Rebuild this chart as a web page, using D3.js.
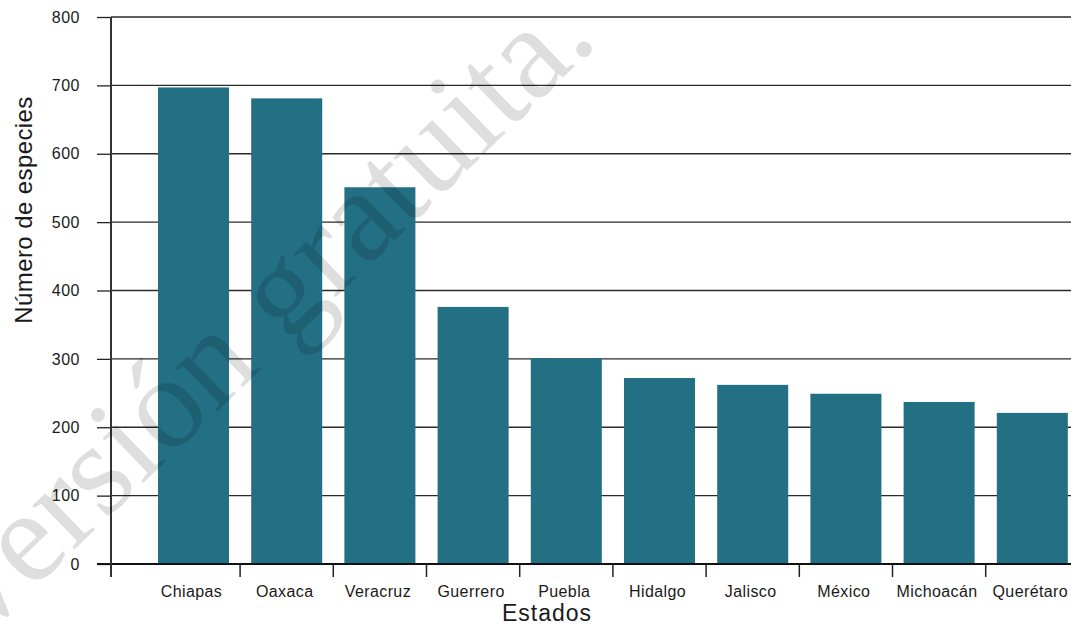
<!DOCTYPE html>
<html>
<head>
<meta charset="utf-8">
<script src="https://cdn.jsdelivr.net/npm/d3@7"></script>
<style>
  html, body { margin: 0; padding: 0; background: #fff; }
  svg { display: block; }
</style>
</head>
<body>
<svg id="chart" width="1071" height="627"></svg>
<script>
const categories = ["Chiapas", "Oaxaca", "Veracruz", "Guerrero", "Puebla", "Hidalgo", "Jalisco", "México", "Michoacán", "Querétaro"];
const values = [697, 681, 551, 376, 301, 272, 262, 249, 237, 221];
const yTicks = [0, 100, 200, 300, 400, 500, 600, 700, 800];
const yTitle = "Número de especies";
const xTitle = "Estados";
const watermark = "Versión gratuita.";

(function () {
const svg = d3.select("#chart");
const W = 1071;
const axisX = 111, plotTop = 17, base = 564;

const x = d3.scaleBand().domain(categories).range([146.8, 1079]).paddingInner(0.238).paddingOuter(0.12);
const y = d3.scaleLinear().domain([0, 800]).range([base, plotTop]);

// gridlines
svg.append("g").selectAll("line").data(yTicks.filter(d => d > 0)).join("line")
  .attr("x1", axisX).attr("x2", W)
  .attr("y1", d => y(d)).attr("y2", d => y(d))
  .attr("stroke", "#2a2a2a").attr("stroke-width", 1.3);

// y axis
const yAxis = d3.axisLeft(y).tickValues(yTicks).tickSize(14).tickPadding(17).tickFormat(d3.format("d"));
const gy = svg.append("g").attr("transform", `translate(${axisX},0)`).call(yAxis);
gy.select(".domain").remove();
gy.selectAll(".tick line").attr("stroke", "#222").attr("stroke-width", 1.3);
gy.selectAll(".tick text").attr("font-family", "'Liberation Sans', Arial, sans-serif")
  .attr("font-size", 16).attr("letter-spacing", 0.5).attr("fill", "#1a1a1a");

// bars
svg.append("g").selectAll("rect").data(values).join("rect")
  .attr("x", (d, i) => x(categories[i]))
  .attr("width", x.bandwidth())
  .attr("y", d => y(d))
  .attr("height", d => base - y(d))
  .attr("fill", "#236f84");

// x axis: ticks at boundaries between bars
const gap = x.step() * x.paddingInner();
const boundaries = categories.map((c, i) => i === 0 ? axisX : x(c) - gap / 2);
svg.append("g").selectAll("line").data(boundaries).join("line")
  .attr("x1", d => d).attr("x2", d => d)
  .attr("y1", base).attr("y2", base + 13)
  .attr("stroke", "#222").attr("stroke-width", 1.5);

svg.append("line").attr("x1", axisX - 14).attr("x2", W).attr("y1", base).attr("y2", base)
  .attr("stroke", "#111").attr("stroke-width", 2);

// y axis line
svg.append("line").attr("x1", axisX).attr("x2", axisX).attr("y1", plotTop).attr("y2", base + 13)
  .attr("stroke", "#333").attr("stroke-width", 2);

// x labels
svg.append("g").selectAll("text").data(categories).join("text")
  .attr("x", d => x(d) + x.bandwidth() / 2 - 2)
  .attr("y", 597)
  .attr("text-anchor", "middle")
  .attr("font-family", "'Liberation Sans', Arial, sans-serif")
  .attr("font-size", 16).attr("letter-spacing", 0.4).attr("fill", "#1a1a1a")
  .text(d => d);

// titles
svg.append("text").attr("x", 547).attr("y", 621).attr("text-anchor", "middle")
  .attr("font-family", "'Liberation Sans', Arial, sans-serif")
  .attr("font-size", 23).attr("letter-spacing", 1).attr("fill", "#1a1a1a")
  .text(xTitle);

svg.append("text").attr("transform", "translate(32,210) rotate(-90)").attr("text-anchor", "middle")
  .attr("font-family", "'Liberation Sans', Arial, sans-serif")
  .attr("font-size", 24).attr("letter-spacing", 0.4).attr("fill", "#1a1a1a")
  .text(yTitle);

// watermark
svg.append("text").attr("transform", "translate(600,42) rotate(-44)").attr("text-anchor", "end")
  .attr("font-family", "'Liberation Serif', 'Times New Roman', serif")
  .attr("font-size", 132).attr("fill", "#000").attr("fill-opacity", 0.13)
  .text(watermark);
})();
</script>
</body>
</html>
